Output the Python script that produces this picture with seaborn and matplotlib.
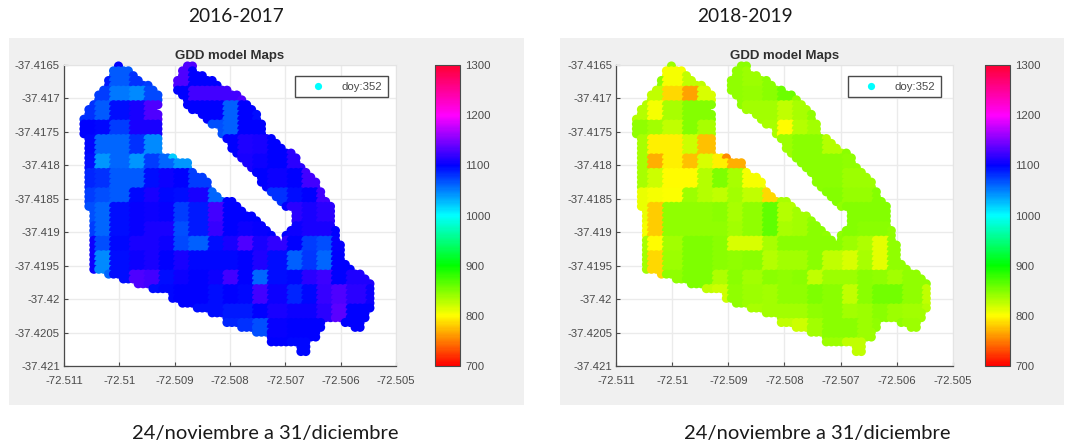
import numpy as np
import pandas as pd
import matplotlib
matplotlib.use("Agg")
import matplotlib.pyplot as plt
from matplotlib.colors import LinearSegmentedColormap, Normalize
from matplotlib.cm import ScalarMappable
from matplotlib.lines import Line2D
from matplotlib.patches import Rectangle
import seaborn as sns

W, H = 1065, 446

# Sampling grid of the field (dots every step, rows going south)
dot_lon0, dot_dlon = -72.510639, 0.0000891
dot_lat0, dot_dlat = -37.416515, 0.00007235
# Block grid on which the GDD model values are constant
blk_lon0, blk_dlon = -72.510693, 0.0002856
blk_lat0, blk_dlat = -37.416322, 0.0002511

# Column spans of the dots on every row of the field
row_spans = [
    [(7, 7), (21, 22)], [(6, 9), (20, 22)], [(6, 10), (20, 24)], [(5, 11), (19, 26)],
    [(5, 13), (19, 27)], [(4, 14), (19, 29)], [(3, 15), (20, 31)], [(3, 15), (21, 32)],
    [(2, 15), (21, 33)], [(1, 14), (22, 34)], [(1, 15), (24, 35)], [(0, 15), (25, 35)],
    [(0, 15), (26, 36)], [(0, 15), (28, 36)], [(0, 15), (28, 36)], [(1, 15), (29, 38)],
    [(1, 15), (30, 39)], [(1, 15), (30, 40)], [(1, 15), (31, 42)], [(1, 18), (32, 43)],
    [(1, 21), (33, 43)], [(1, 21), (34, 44)], [(1, 22), (35, 45)], [(1, 24), (36, 46)],
    [(1, 25), (36, 47)], [(1, 25), (37, 47)], [(1, 26), (38, 48)], [(1, 27), (39, 48)],
    [(1, 30), (40, 49)], [(1, 31), (41, 50)], [(2, 32), (43, 50)], [(2, 34), (43, 50)],
    [(2, 35), (43, 50)], [(2, 36), (43, 50)], [(2, 37), (42, 51)], [(2, 38), (41, 51)],
    [(2, 39), (41, 51)], [(2, 52)], [(2, 52)], [(2, 52)],
    [(2, 52)], [(2, 53)], [(2, 54)], [(5, 56)],
    [(8, 57)], [(11, 58)], [(14, 58)], [(18, 58)],
    [(18, 58)], [(20, 58)], [(23, 58)], [(26, 57)],
    [(29, 57)], [(29, 48), (53, 56)], [(32, 48), (55, 56)], [(35, 47)],
    [(38, 47)], [(38, 45)], [(44, 45)], [(44, 45)],
]

gdd_2016 = [
    [1100,1100,1100,1100,1100,1130,1130,1130,1100,1100,1100,1100,1100,1100,1100,1100,1100,1100,1100],
    [1090,1090,1065,1080,1075,1130,1130,1100,1100,1100,1100,1100,1100,1100,1100,1100,1100,1100,1100],
    [1080,1075,1052,1045,1072,1100,1100,1125,1125,1125,1130,1100,1100,1100,1100,1100,1100,1100,1100],
    [1082,1065,1095,1108,1130,1100,1100,1100,1100,1062,1100,1095,1100,1100,1100,1100,1100,1100,1100],
    [1100,1098,1075,1110,1108,1100,1100,1100,1070,1062,1100,1100,1100,1100,1100,1100,1100,1100,1100],
    [1098,1060,1060,1082,1045,1060,1100,1100,1070,1100,1112,1110,1100,1115,1115,1100,1100,1100,1100],
    [1095,1040,1060,1040,1075,1060,1040,1100,1100,1100,1110,1105,1100,1115,1120,1100,1100,1100,1100],
    [1085,1080,1065,1065,1095,1105,1100,1075,1060,1100,1100,1100,1105,1100,1125,1120,1100,1100,1100],
    [1075,1068,1065,1098,1108,1098,1095,1110,1060,1100,1100,1100,1080,1095,1100,1125,1130,1100,1100],
    [1070,1060,1095,1103,1105,1102,1075,1090,1125,1100,1100,1100,1100,1115,1110,1115,1100,1100,1100],
    [1075,1060,1095,1102,1108,1108,1070,1090,1120,1100,1105,1102,1100,1105,1110,1110,1100,1100,1100],
    [1105,1070,1098,1108,1110,1105,1072,1062,1095,1108,1130,1108,1118,1100,1075,1070,1102,1100,1100],
    [1105,1045,1095,1105,1108,1100,1108,1098,1098,1098,1100,1112,1095,1062,1078,1060,1100,1100,1100],
    [1105,1060,1095,1130,1125,1095,1105,1100,1105,1125,1100,1060,1095,1098,1115,1122,1100,1112,1112],
    [1100,1100,1100,1100,1095,1098,1100,1100,1095,1100,1098,1125,1105,1085,1098,1120,1130,1115,1105],
    [1100,1100,1100,1100,1100,1100,1098,1095,1095,1090,1090,1100,1108,1105,1105,1115,1135,1100,1100],
    [1100,1100,1100,1100,1100,1100,1100,1100,1100,1085,1080,1070,1102,1100,1100,1100,1100,1100,1100],
    [1100,1100,1100,1100,1100,1100,1100,1100,1100,1100,1100,1100,1100,1098,1098,1100,1100,1100,1100],
]

gdd_2018 = [
    [843,843,840,843,843,846,846,846,843,843,843,843,843,843,843,843,843,843,843],
    [843,843,805,825,825,848,843,840,846,843,843,843,843,843,843,843,843,843,843],
    [820,825,785,765,815,843,843,842,846,858,843,843,843,843,843,843,843,843,843],
    [830,805,835,848,848,843,843,838,838,825,835,843,843,843,843,843,843,843,843],
    [843,836,825,848,835,843,843,843,835,800,830,836,843,843,843,843,843,843,843],
    [835,795,795,820,775,795,843,843,843,840,846,846,830,846,843,843,843,843,843],
    [835,770,795,775,815,795,770,843,843,843,846,846,846,843,843,843,843,843,843],
    [835,820,800,800,830,850,835,805,820,843,843,846,846,840,840,843,843,843,843],
    [810,805,802,840,830,825,836,825,785,835,830,843,848,842,842,848,846,843,843],
    [810,782,843,843,843,846,835,843,862,830,836,843,843,848,848,848,843,843,843],
    [805,782,843,843,843,843,836,843,862,835,836,846,843,848,846,846,843,843,843],
    [835,800,836,850,850,846,815,815,835,846,846,846,846,840,832,812,843,843,843],
    [838,785,840,850,850,846,843,846,830,836,836,846,825,815,835,812,843,843,843],
    [838,785,843,850,850,832,846,836,846,843,846,825,840,840,846,843,836,843,843],
    [843,843,843,843,825,820,843,840,838,843,843,850,846,825,846,855,855,843,825],
    [843,843,843,843,843,843,835,835,838,838,838,843,846,836,840,846,840,836,830],
    [843,843,843,843,843,843,843,843,843,825,820,836,846,846,840,843,843,840,843],
    [843,843,843,843,843,843,843,843,843,843,843,843,840,825,825,843,843,843,843],
]

# One dot that stands out from its block
spot_row, spot_col = 19, 18
spot_2016, spot_2018 = 1020, 755

x_ticks = [-72.511, -72.51, -72.509, -72.508, -72.507, -72.506, -72.505]
x_labels = ["-72.511", "-72.51", "-72.509", "-72.508", "-72.507", "-72.506", "-72.505"]
y_ticks = [-37.4165, -37.417, -37.4175, -37.418, -37.4185, -37.419, -37.4195, -37.42, -37.4205, -37.421]
y_labels = ["-37.4165", "-37.417", "-37.4175", "-37.418", "-37.4185", "-37.419", "-37.4195", "-37.42", "-37.4205", "-37.421"]
cbar_ticks = [700, 800, 900, 1000, 1100, 1200, 1300]
legend_label = "doy:352"
plot_title = "GDD model Maps"
period_labels = ["2016-2017", "2018-2019"]
date_label = "24/noviembre a 31/diciembre"

anchors = ["#ff0000", "#ffff00", "#00ff00", "#00ffff", "#0000ff", "#ff00ff", "#ff0033"]
gdd_cmap = LinearSegmentedColormap.from_list("gdd", anchors, N=256)
gdd_norm = Normalize(700, 1300)

INK = "#4a4a4a"
SANS = "Liberation Sans"


def field_frame(blocks, spot):
    blocks = np.asarray(blocks, dtype=float)
    rows = []
    for r, spans in enumerate(row_spans):
        lat = dot_lat0 - r * dot_dlat
        for a, b in spans:
            for c in range(a, b + 1):
                lon = dot_lon0 + c * dot_dlon
                j = int((lon - blk_lon0) / blk_dlon)
                k = int((blk_lat0 - lat) / blk_dlat)
                v = spot if (r, c) == (spot_row, spot_col) else blocks[k, j]
                rows.append((lon, lat, v))
    return pd.DataFrame(rows, columns=["lon", "lat", "gdd"])


def box(l, t, r, b):
    return [l / W, 1 - b / H, (r - l) / W, (b - t) / H]


sns.set_theme(style="white")
plt.rcParams["font.family"] = [SANS, "DejaVu Sans"]
fig = plt.figure(figsize=(W / 100, H / 100), dpi=100, facecolor="white")

for l, r in [(9, 524), (560, 1064)]:
    fig.add_artist(Rectangle((l / W, 1 - 405 / H), (r - l) / W, (405 - 38) / H,
                             transform=fig.transFigure, facecolor="#f0f0f0",
                             edgecolor="none", zorder=-5))

panels = [
    (gdd_2016, spot_2016, (64, 65, 396, 366), (434.5, 65, 459.5, 366), 236, 388, period_labels[0], 265),
    (gdd_2018, spot_2018, (616.2, 65, 952.7, 366), (985, 65, 1010, 366), 745, 941, period_labels[1], 817),
]
for blocks, spot, ab, cb, top_x, leg_r, period, bot_x in panels:
    ax = fig.add_axes(box(*ab))
    ax.set_facecolor("white")
    sns.scatterplot(data=field_frame(blocks, spot), x="lon", y="lat", hue="gdd",
                    palette=gdd_cmap, hue_norm=(700, 1300), s=43, linewidth=0,
                    legend=False, ax=ax, zorder=3, clip_on=False)
    ax.set_xlim(-72.511, -72.505)
    ax.set_ylim(-37.421, -37.4165)
    ax.set_xticks(x_ticks, labels=x_labels)
    ax.set_yticks(y_ticks, labels=y_labels)
    ax.set_xlabel("")
    ax.set_ylabel("")
    ax.grid(True, color="#ebebeb", lw=1)
    ax.set_axisbelow(True)
    ax.tick_params(direction="in", length=3, width=0.8, color=INK, labelcolor=INK,
                   labelsize=8.2, pad=3, bottom=True, left=True)
    ax.tick_params(axis="x", pad=7)
    for s in ["top", "right"]:
        ax.spines[s].set_color("#e4e4e4")
        ax.spines[s].set_linewidth(0.8)
    for s in ["left", "bottom"]:
        ax.spines[s].set_color(INK)
        ax.spines[s].set_linewidth(0.9)
    ax.set_title(plot_title, fontsize=9.5, fontweight="bold", color="#303030", pad=4, family=SANS)

    handle = Line2D([], [], marker="o", linestyle="none", color="#00ffff",
                    markersize=5.2, markeredgewidth=0)
    l, t, r, b = ab
    anchor = ((leg_r - l) / (r - l), 1 - (76 - t) / (b - t))
    leg = ax.legend([handle], [legend_label], loc="upper right", bbox_to_anchor=anchor,
                    borderaxespad=0, frameon=True, fancybox=False, fontsize=8.2,
                    edgecolor=INK, facecolor="white", framealpha=1,
                    handlelength=3.0, handletextpad=0.6,
                    borderpad=0.5, labelcolor=INK)
    leg.get_frame().set_linewidth(1)
    leg.set_zorder(6)

    cax = fig.add_axes(box(*cb))
    bar = fig.colorbar(ScalarMappable(norm=gdd_norm, cmap=gdd_cmap), cax=cax, ticks=cbar_ticks)
    bar.ax.tick_params(direction="in", length=2, width=0.7, color=INK, labelcolor=INK,
                       labelsize=8.2, pad=4, right=True)
    bar.outline.set_edgecolor(INK)
    bar.outline.set_linewidth(0.8)

    fig.text(top_x / W, 1 - 16.5 / H, period, ha="center", va="center",
             fontsize=13.8, color="#1a1a1a", family="Lato")
    fig.text(bot_x / W, 1 - 433 / H, date_label, ha="center", va="center",
             fontsize=14.5, color="#1a1a1a", family="Lato")

fig.savefig("out.png", dpi=100, facecolor="white")
